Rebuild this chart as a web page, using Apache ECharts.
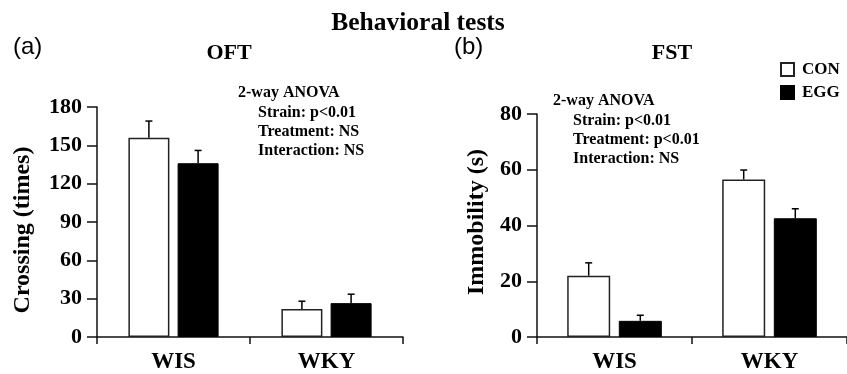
<!DOCTYPE html>
<html>
<head>
<meta charset="utf-8">
<script src="https://cdn.jsdelivr.net/npm/echarts@6/dist/echarts.min.js"></script>
<style>
html,body{margin:0;padding:0;background:#fff;}
#c{width:847px;height:374px;}
</style>
</head>
<body>
<div id="c"></div>
<script>
const categories = ['WIS', 'WKY'];
const seriesNames = ['CON', 'EGG'];
// OFT: Crossing (times)
const oftCON = [156, 22];
const oftEGG = [136, 26.5];
const oftCONErr = [13, 6];
const oftEGGErr = [10, 7];
// FST: Immobility (s)
const fstCON = [22, 56.5];
const fstEGG = [5.8, 42.6];
const fstCONErr = [4.6, 3.4];
const fstEGGErr = [2, 3.4];
const oftTicks = {min: 0, max: 180, interval: 30};
const fstTicks = {min: 0, max: 80, interval: 20};

const SERIF = '"Liberation Serif", "Times New Roman", serif';
const SANS = '"Liberation Sans", Arial, sans-serif';

const chart = echarts.init(document.getElementById('c'), null, {renderer: 'canvas'});

const BARW = [41, 43];
const GAP = 0.2;

function errSeries(gridIdx, name, means, errs, sign) {
  const bw = BARW[gridIdx];
  return {
    type: 'custom',
    name: name,
    xAxisIndex: gridIdx,
    yAxisIndex: gridIdx,
    z: 5,
    data: means.map((m, i) => [i, m, errs[i]]),
    renderItem: function (params, api) {
      const off = sign * bw * (1 + GAP) / 2;
      const p0 = api.coord([api.value(0), api.value(1)]);
      const p1 = api.coord([api.value(0), api.value(1) + api.value(2)]);
      const x = p0[0] + off;
      const cap = 3.5;
      return {
        type: 'group',
        children: [
          {type: 'line', shape: {x1: x, y1: p0[1], x2: x, y2: p1[1]}, style: {stroke: '#000', lineWidth: 1.5}},
          {type: 'line', shape: {x1: x - cap, y1: p1[1], x2: x + cap, y2: p1[1]}, style: {stroke: '#000', lineWidth: 1.5}}
        ]
      };
    }
  };
}

function xAxis(gridIdx) {
  return {
    type: 'category',
    gridIndex: gridIdx,
    data: categories,
    boundaryGap: true,
    axisLine: {lineStyle: {color: '#111', width: 1.5}},
    axisTick: {show: true, inside: false, length: 7, lineStyle: {color: '#111', width: 1.5}},
    axisLabel: {fontFamily: SERIF, fontWeight: 'bold', fontSize: 23, color: '#000', margin: 14},
    splitLine: {show: false}
  };
}
function yAxis(gridIdx, t) {
  return {
    type: 'value',
    gridIndex: gridIdx,
    min: t.min, max: t.max, interval: t.interval,
    axisLine: {show: true, lineStyle: {color: '#111', width: 1.5}},
    axisTick: {show: true, inside: false, length: 10, lineStyle: {color: '#111', width: 1.5}},
    axisLabel: {fontFamily: SERIF, fontWeight: 'bold', fontSize: 22, color: '#000', margin: 15},
    splitLine: {show: false}
  };
}
function barSeries(gridIdx, name, data) {
  const isCon = name === 'CON';
  return {
    type: 'bar',
    name: name,
    xAxisIndex: gridIdx,
    yAxisIndex: gridIdx,
    data: data,
    barWidth: BARW[gridIdx],
    barGap: (GAP * 100) + '%',
    itemStyle: isCon ? {color: '#fff', borderColor: '#222', borderWidth: 1.5} : {color: '#000', borderColor: '#000', borderWidth: 1},
    emphasis: {disabled: true},
    animation: false
  };
}

function txt(x, y, s, opts) {
  return {
    type: 'text', x: x, y: y,
    style: Object.assign({text: s, fontFamily: SERIF, fontWeight: 'bold', fontSize: 16, fill: '#000', textAlign: 'left', textVerticalAlign: 'middle'}, opts || {})
  };
}

const graphics = [
  txt(418, 23, 'Behavioral tests', {fontSize: 25.5, textAlign: 'center'}),
  txt(13, 47, '(a)', {fontFamily: SANS, fontWeight: 'normal', fontSize: 24}),
  txt(454, 47, '(b)', {fontFamily: SANS, fontWeight: 'normal', fontSize: 24}),
  txt(229, 53, 'OFT', {fontSize: 22, textAlign: 'center'}),
  txt(672, 53, 'FST', {fontSize: 22, textAlign: 'center'}),
  {type: 'text', x: 23, y: 230, rotation: Math.PI / 2,
   style: {text: 'Crossing (times)', fontFamily: SERIF, fontWeight: 'bold', fontSize: 24, fill: '#000', textAlign: 'center', textVerticalAlign: 'middle'}},
  {type: 'text', x: 477, y: 222, rotation: Math.PI / 2,
   style: {text: 'Immobility (s)', fontFamily: SERIF, fontWeight: 'bold', fontSize: 24, fill: '#000', textAlign: 'center', textVerticalAlign: 'middle'}},
  txt(238, 93, '2-way ANOVA'),
  txt(258, 113, 'Strain: p<0.01'),
  txt(258, 132, 'Treatment: NS'),
  txt(258, 151, 'Interaction: NS'),
  txt(553, 101, '2-way ANOVA'),
  txt(573, 121, 'Strain: p<0.01'),
  txt(573, 140, 'Treatment: p<0.01'),
  txt(573, 159, 'Interaction: NS')
];

chart.setOption({
  animation: false,
  backgroundColor: '#fff',
  grid: [
    {left: 97, top: 107, width: 306, bottom: 36, containLabel: false},
    {left: 537, top: 114, width: 318, bottom: 37, containLabel: false}
  ],
  legend: {
    data: seriesNames,
    orient: 'vertical',
    left: 780, top: 61,
    padding: 0,
    itemWidth: 13, itemHeight: 13, itemGap: 6,
    icon: 'rect',
    textStyle: {fontFamily: SERIF, fontWeight: 'bold', fontSize: 17, color: '#000', padding: [0, 0, 0, 3]},
    selectedMode: false
  },
  xAxis: [xAxis(0), xAxis(1)],
  yAxis: [yAxis(0, oftTicks), yAxis(1, fstTicks)],
  series: [
    barSeries(0, 'CON', oftCON),
    barSeries(0, 'EGG', oftEGG),
    errSeries(0, 'errOftCON', oftCON, oftCONErr, -1),
    errSeries(0, 'errOftEGG', oftEGG, oftEGGErr, 1),
    barSeries(1, 'CON', fstCON),
    barSeries(1, 'EGG', fstEGG),
    errSeries(1, 'errFstCON', fstCON, fstCONErr, -1),
    errSeries(1, 'errFstEGG', fstEGG, fstEGGErr, 1)
  ],
  graphic: graphics
});
</script>
</body>
</html>
